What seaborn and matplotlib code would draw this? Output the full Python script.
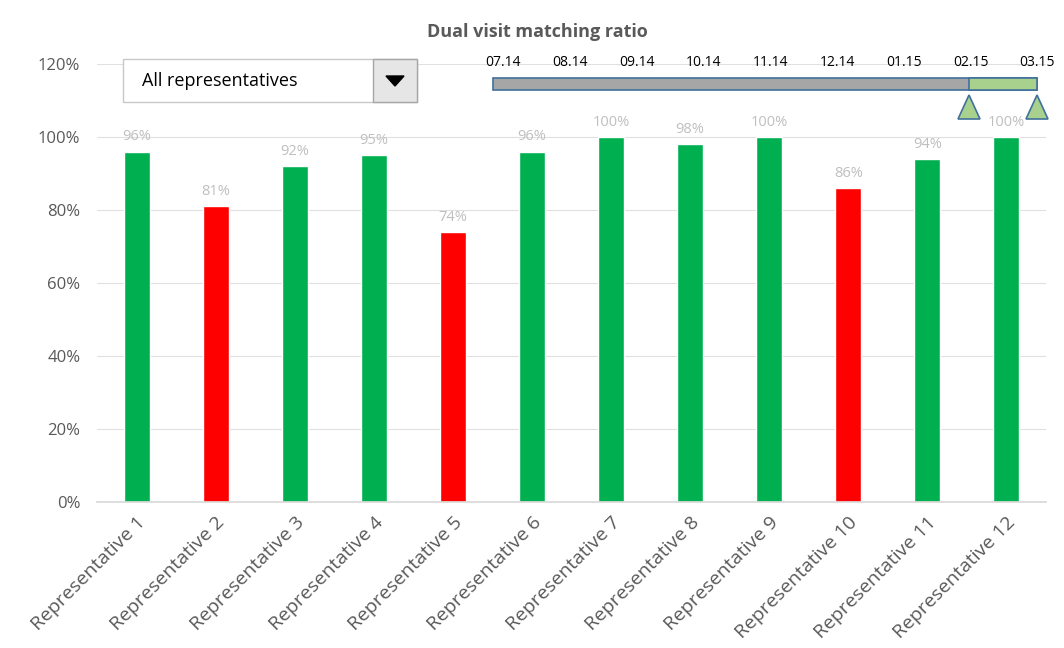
import numpy as np
import pandas as pd
import matplotlib
matplotlib.use("Agg")
import matplotlib.pyplot as plt
from matplotlib.patches import Rectangle, Polygon
import seaborn as sns

# data
reps = ["Representative %d" % i for i in range(1, 13)]
ratio = [96, 81, 92, 95, 74, 96, 100, 98, 100, 86, 94, 100]
months = ["07.14", "08.14", "09.14", "10.14", "11.14", "12.14", "01.15", "02.15", "03.15"]
sel_start, sel_end = 7, 8   # selected period on the timeline slider

df = pd.DataFrame({"rep": reps, "ratio": ratio})
df["status"] = np.where(df["ratio"] >= 90, "ok", "low")

sns.set_theme(style="white")
plt.rcParams['font.family'] = ['Open Sans', 'DejaVu Sans']
grey = "#595959"

fig = plt.figure(figsize=(10.64, 6.48), dpi=100)
ax = fig.add_axes([0.0912, 0.2253, 0.8918, 0.6757])

sns.barplot(data=df, x="rep", y="ratio", hue="status",
            palette={"ok": "#00b050", "low": "#ff0000"},
            width=0.33, dodge=False, legend=False, ax=ax, saturation=1)

for i, v in enumerate(df["ratio"]):
    ax.text(i, v + 2, "%d%%" % v, ha="center", va="bottom",
            color="#bfbfbf", fontsize=10.5)

ax.set_ylim(0, 120)
ax.set_xlim(-0.5, 11.5)
ax.set_yticks(range(0, 121, 20))
ax.set_yticklabels(["%d%%" % t for t in range(0, 121, 20)], color=grey, fontsize=12)
ax.set_xticks(range(12))
ax.set_xticklabels(reps, rotation=45, ha="right", rotation_mode="anchor",
                   color=grey, fontsize=14)
ax.tick_params(axis="x", length=0, pad=8)
ax.tick_params(axis="y", length=0, pad=12)
ax.yaxis.grid(True, color="#e0e0e0", lw=0.8)
ax.set_axisbelow(True)
for s in ["top", "right", "left"]:
    ax.spines[s].set_visible(False)
ax.spines["bottom"].set_color("#d9d9d9")
ax.set_xlabel("")
ax.set_ylabel("")

fig.text(0.505, 0.951, "Dual visit matching ratio", ha="center", va="center",
         fontsize=13, fontweight="bold", color=grey)

# dropdown box (figure pixel coords)
def px(x, y):
    return x / 1064, 1 - y / 648

x0, y0 = px(123, 102)
fig.patches.append(Rectangle((x0, y0), (417 - 123) / 1064, 43 / 648,
                             transform=fig.transFigure, fc="white", ec="#c8c8c8", lw=1))
bx, by = px(373, 102)
fig.patches.append(Rectangle((bx, by), 44 / 1064, 43 / 648,
                             transform=fig.transFigure, fc="#e6e6e6", ec="#a6a6a6", lw=1))
fig.patches.append(Polygon([px(386, 76), px(404, 76), px(395, 86)], closed=True,
                           transform=fig.transFigure, fc="black", ec="black"))
tx, ty = px(142, 81)
fig.text(tx, ty, "All representatives", ha="left", va="center", fontsize=13, color="black")

# timeline slider
tl_left, tl_right = 493, 1037
step = (tl_right - tl_left) / (len(months) - 1)
lx, ly = px(tl_left, 90)
fig.patches.append(Rectangle((lx, ly), (tl_right - tl_left) / 1064, 12 / 648,
                             transform=fig.transFigure, fc="#a6a6a6", ec="#41719c", lw=1.2))
sx = tl_left + sel_start * step
ex = tl_left + sel_end * step
gx, gy = px(sx, 90)
fig.patches.append(Rectangle((gx, gy), (ex - sx) / 1064, 12 / 648,
                             transform=fig.transFigure, fc="#a9d18e", ec="#41719c", lw=1.2))
for i, m in enumerate(months):
    mx = tl_left + 10 + i * (step - 1.2)
    if i == len(months) - 1:
        mx = tl_right
    fx, fy = px(mx, 62)
    fig.text(fx, fy, m, ha="center", va="center", fontsize=10, color="black")
for hx in [sx, ex]:
    fig.patches.append(Polygon([px(hx, 95), px(hx - 11, 119), px(hx + 11, 119)], closed=True,
                               transform=fig.transFigure, fc="#a9d18e", ec="#41719c", lw=1.2))

fig.savefig("out.png", dpi=100)
